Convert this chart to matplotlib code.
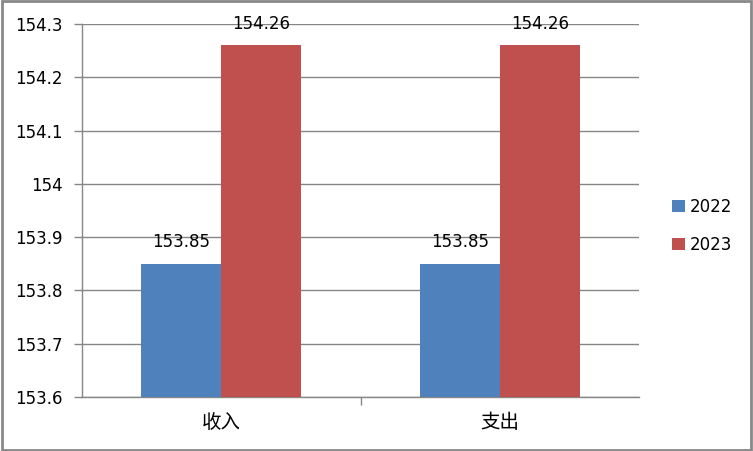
import matplotlib.pyplot as plt
from matplotlib.patches import Rectangle
import numpy as np

plt.rcParams['font.family'] = ['DejaVu Sans', 'Noto Sans CJK SC']

categories = ['收入', '支出']
series = ['2022', '2023']
values_2022 = [153.85, 153.85]
values_2023 = [154.26, 154.26]
y_ticks = [153.6, 153.7, 153.8, 153.9, 154.0, 154.1, 154.2, 154.3]
y_labels = ['153.6', '153.7', '153.8', '153.9', '154', '154.1', '154.2', '154.3']

blue = '#4F81BD'
red = '#C0504D'
grey = '#868686'

fig = plt.figure(figsize=(7.53, 4.51), dpi=100)
ax = fig.add_axes([82 / 753, 1 - 397 / 451, 557 / 753, 373 / 451])

x = np.arange(len(categories))
w = 0.287
bottom = y_ticks[0]
b1 = ax.bar(x - w / 2, np.array(values_2022) - bottom, w, bottom=bottom, color=blue, label=series[0], zorder=3)
b2 = ax.bar(x + w / 2, np.array(values_2023) - bottom, w, bottom=bottom, color=red, label=series[1], zorder=3)

for bars, vals in ((b1, values_2022), (b2, values_2023)):
    for rect, v in zip(bars, vals):
        ax.annotate(f'{v:.2f}', (rect.get_x() + rect.get_width() / 2, v),
                    xytext=(0, 9), textcoords='offset points',
                    ha='center', va='bottom', fontsize=12, color='black')

ax.set_xlim(-0.5, 1.5)
ax.set_ylim(153.6, 154.3)
ax.set_yticks(y_ticks)
ax.set_yticklabels(y_labels, fontsize=12)
ax.yaxis.grid(True, color=grey, linewidth=1, zorder=0)

ax.set_xticks([0.5])
ax.set_xticklabels([''])
ax.set_xticks(x, minor=True)
ax.set_xticklabels(categories, minor=True, fontsize=14, family=['Noto Sans CJK SC', 'DejaVu Sans'])
ax.tick_params(axis='x', which='minor', length=0, pad=11)
ax.tick_params(axis='x', which='major', length=6, color=grey, width=1)
ax.tick_params(axis='y', length=6, color=grey, width=1, pad=8)

for s in ('top', 'right'):
    ax.spines[s].set_visible(False)
for s in ('left', 'bottom'):
    ax.spines[s].set_color(grey)
    ax.spines[s].set_linewidth(1)

fig.legend(handles=[b1, b2], labels=series, loc='center left',
           bbox_to_anchor=(672 / 753, 1 - 226 / 451), bbox_transform=fig.transFigure,
           frameon=False, fontsize=12, borderpad=0, borderaxespad=0,
           handlelength=0.78, handleheight=0.78, handletextpad=0.3,
           labelspacing=1.2)

fig.patches.append(Rectangle((0.002, 0.003), 0.995, 0.994, transform=fig.transFigure,
                             fill=False, edgecolor='#898989', linewidth=2))

fig.savefig('out.png', dpi=100)
